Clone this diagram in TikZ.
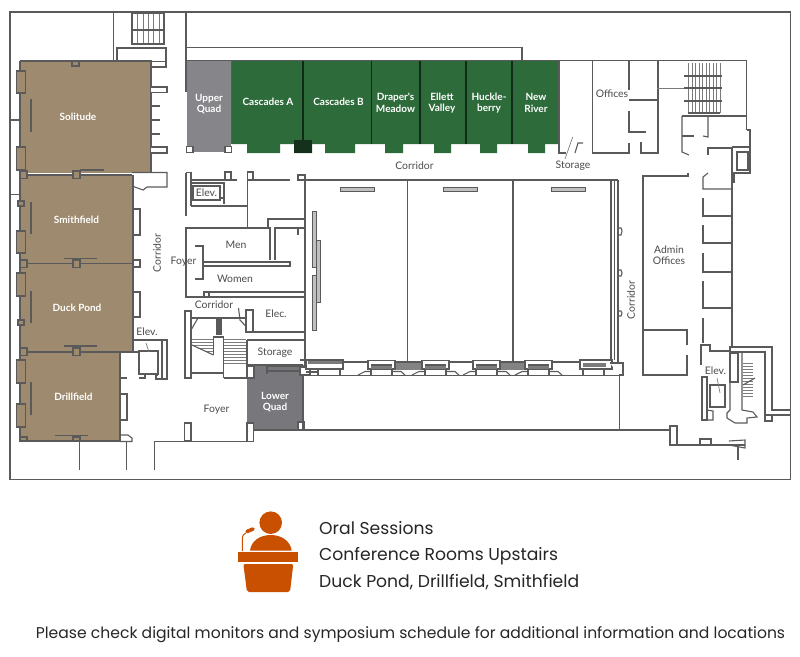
\documentclass[tikz,border=0pt]{standalone}
\usepackage{fontspec}
\setmainfont{Poppins}
\newfontfamily\planfont{Lato}
\definecolor{brownroom}{HTML}{9E8A6E}
\definecolor{greenroom}{HTML}{2E6B3B}
\definecolor{grayroom}{HTML}{85858A}
\definecolor{grayroomb}{HTML}{77777C}
\definecolor{wallc}{HTML}{5A5A5A}
\definecolor{orangeicon}{HTML}{C85000}
\definecolor{labelc}{HTML}{4A4A4A}
\tikzset{
  wall/.style={draw=wallc,line width=1.1pt,line join=miter},
  thin wall/.style={draw=wallc!80,line width=.7pt},
  heavy/.style={draw=wallc,line width=1.6pt},
  block/.style={draw=wallc,line width=1.1pt,fill=white},
  bar/.style={draw=wallc,line width=.9pt,fill=gray!50},
  plan/.style={font=\planfont\fontsize{10.4}{11.5}\selectfont,text=labelc,align=center,inner sep=0pt},
  planw/.style={font=\planfont\bfseries\fontsize{10}{11.5}\selectfont,text=white,align=center,inner sep=0pt},
  caption/.style={font=\fontsize{17.2}{20}\selectfont,text=black!85,anchor=base west,inner sep=0pt}
}
\begin{document}
\begin{tikzpicture}[x=1pt,y=-1pt]
\useasboundingbox (0,0) rectangle (800,656);
% frame
\draw[wall] (10,12) rectangle (790.5,479.5);
% coloured rooms
\fill[brownroom] (20,61) rectangle (151,173);
\fill[brownroom] (20,175) rectangle (133,263);
\fill[brownroom] (20,263) rectangle (133,352);
\fill[brownroom] (20,352) rectangle (120,441);
\fill[grayroom] (187,60.5) rectangle (231,152);
\fill[greenroom] (232,60.5) -- (559,60.5) -- (559,144) -- (545,144) -- (545,153) -- (528,153) -- (528,144)
 -- (497,144) -- (497,153) -- (480,153) -- (480,144) -- (451,144) -- (451,153) -- (434,153) -- (434,144)
 -- (403,144) -- (403,153) -- (385,153) -- (385,144) -- (355,144) -- (355,153) -- (325,153) -- (325,144)
 -- (312,144) -- (312,153) -- (294,153) -- (294,144) -- (280,144) -- (280,153) -- (247,153) -- (247,144) -- (232,144) -- cycle;
\fill[grayroomb] (254,365) -- (303,365) -- (303,430) -- (254,430) -- (254,423) -- (247,423) -- (247,378) -- (254,378) -- cycle;
% room outlines
\draw[wall] (20,61) -- (151,61) -- (151,172);
\draw[heavy] (20,175) -- (132,175);
\draw[heavy] (20,263.5) -- (133,263.5);
\draw[heavy] (20,352) -- (138,352);
\draw[wall] (20,61) -- (20,441) -- (120,441) -- (120,352);
\draw[wall] (133,175) -- (133,263);
\draw[wall] (133,263) -- (133,352);
\draw[wall] (186,12) -- (186,92);
\draw[wall] (113.5,12) -- (113.5,61);
\draw[wall] (231.5,60.5) -- (231.5,144);
\foreach \x in {303,371.5,420,466,512}{\draw[draw=black!60!greenroom,line width=1.1pt] (\x,60.5) -- (\x,144);}
\draw[wall] (186,47.5) -- (522,47.5) -- (522,60.5);
\draw[wall] (186,60.5) -- (746.7,60.5);
\draw[wall] (559,60.5) -- (559,153) -- (566,153);
\fill[black!55!greenroom] (294,140) rectangle (312,153);
% corner squares of the upper quad
\draw[block] (186.5,146.5) rectangle (193,152.5);
\draw[block] (225,146.5) rectangle (231.5,152.5);
% top stair
\foreach \x in {132,137.5,143,148,153.5,159,164}{\draw[thin wall] (\x,13) -- (\x,44);}
\draw[wall] (132,13) rectangle (164,44);
\draw[wall] (132,30) -- (164,30);
% solitude right side
\draw[wall] (117,61) -- (117,48) -- (166,48) -- (166,67) -- (151,67);
\draw[wall] (151,61.5) -- (166,61.5);
\draw[block] (151,87) -- (167,87) -- (167,92.5) -- (151,92.5);
\draw[wall] (151,106) -- (160,106) (151,120) -- (160,120) (151,134) -- (160,134);
\draw[block] (151,147) -- (167,147) -- (167,153) -- (151,153);
% left doors
\foreach \y/\h in {71/22,147/23,231/22,273/23,360/23,404/23}{\draw[wall,fill=brownroom] (16.5,\y) rectangle (25.5,\y+\h);}
\foreach \y/\e in {99/132,202/234,291/323,382/415}{\draw[wall,line width=1.3pt] (31,\y) -- (31,\e);}
\draw[wall] (11,120) -- (20,120) (11,194.5) -- (20,194.5);
\draw[wall,fill=brownroom] (72,61) rectangle (79,66);
\draw[wall,fill=brownroom] (18,201) rectangle (24,206);
\draw[wall,fill=brownroom] (18,320) rectangle (24,325);
\foreach \y in {171,260,348}{\draw[wall,fill=brownroom] (73,\y) rectangle (80,\y+7.5);\draw[wall,fill=brownroom] (20,\y) rectangle (27,\y+7.5);}
\draw[wall,fill=brownroom] (73,437) rectangle (80,441);
\draw[wall,fill=brownroom] (20,437) rectangle (27,441);
\draw[wall,line width=1.3pt] (80,170) -- (104,170) (64,258.5) -- (97,258.5) (64,346) -- (97,346) (55,435.5) -- (88,435.5);
% right side of west rooms
\draw[wall] (132,172.5) -- (167,172.5) -- (167,187) -- (147,187) -- (143,190) -- (132,186);
\draw[block] (133,209) rectangle (140,235);
\draw[block] (133,292) rectangle (140,317);
\draw[block] (133,260) rectangle (140,267);
\draw[block] (120,394) rectangle (127,420);
\draw[wall] (120,435) -- (128,435) -- (132,438) -- (132,441.5) -- (120,441.5);
\draw[wall] (79.5,441) -- (79.5,470) (126.5,442) -- (126.5,470);
\draw[wall] (154.5,470) -- (154.5,441.5) -- (247,441.5);
% west elevator
\node[plan] (elevw) at (147,332) {Elev.};
\coordinate (elevwa) at (149,352);
\draw[wall] (134,340) -- (167,340) -- (167,379) -- (156,379) -- (156,375) -- (158,375);
\draw[wall] (162,340) -- (162,379);
\draw[wall] (139,351) rectangle (158,374);
\draw[thin wall] (146,343) -- (elevwa);
\draw[wall] (120,378) -- (127,378) (139,378) -- (145,378) -- (145,374) (120,372) -- (120,378);
% upper elevator
\draw[wall] (186,172.5) -- (191,172.5) -- (191,206);
\draw[wall] (186,172.5) -- (186,216);
\draw[wall] (191,180) -- (237,180);
\draw[wall] (225,172) rectangle (231,180);
\draw[wall] (191,183) -- (224,183) -- (224,198) -- (220,198) (191,206) -- (247,206);
\draw[wall] (193,186) rectangle (220,200);
\draw[wall] (220,198) -- (224,198) -- (224,204);
\node[plan] (elevn) at (206.5,193) {Elev.};
\draw[wall] (247.5,172) -- (247.5,228);
\draw[wall] (247.5,172) rectangle (253,180);
\draw[wall] (253,180) -- (290,180);
\draw[wall] (298,175) rectangle (305,180);
\draw[wall] (305,180) -- (305,372);
% toilets, foyer
\draw[wall] (268,228) -- (268,219) -- (305,219);
\draw[wall] (186,232) -- (186,297) -- (204,297);
\draw[wall] (186,232) -- (186,228) -- (270,228) -- (270,260);
\draw[wall] (275,260) -- (275,228) -- (298,228) -- (298,235) (298,228) -- (305,228);
\draw[wall] (195,246) -- (203,246) -- (203,279) -- (195,279);
\draw[wall] (204,262) -- (290,262) -- (290,266) -- (204,266);
\draw[wall] (204,292) rectangle (209,297);
\draw[wall] (209,292) -- (305,292) (209,297) -- (305,297);
% stairs
\draw[wall] (185,311) rectangle (191,378);
\draw[wall] (191,318) -- (245,318);
\draw[wall] (191,330) -- (198,318) (238.5,308) -- (240,320) -- (246.5,327);
\fill[wallc] (216,318) rectangle (222,335);
\draw[wall] (213.5,355) -- (213.5,337) -- (223.5,337) -- (223.5,378);
\foreach \y in {339,342,345}{\draw[thin wall] (192,\y) -- (213,\y);}
\draw[thin wall] (198,348) -- (213,348) (205,351) -- (213,351);
\draw[wall] (213.5,355) -- (192,345);
\foreach \y in {339,342,345,348,351,354,357,360,363}{\draw[thin wall] (224,\y) -- (246,\y);}
\draw[wall] (191,373) -- (223.5,373) (223.5,378) -- (247,378);
\draw[block] (246,310) rectangle (253,332);
\draw[wall] (246,332) -- (305,332) (247,340) -- (305,340) (247,340) -- (247,365) -- (305,365);
\draw[block] (247,366) rectangle (254,378);
\draw[block] (184.5,423) rectangle (191,441);
% lower quad
\draw[wall] (254,430) -- (670,430);
\draw[block] (247,423) rectangle (253.5,441.5);
\draw[block] (298,422) rectangle (304,430);
\draw[wall] (303,365) -- (303,430);
\draw[wall,line width=1.5pt] (267,366.5) -- (299,366.5);
\draw[wall,line width=1.2pt] (267,371) -- (300,371);
\draw[wall] (267,366) -- (267,374);
\draw[block] (300,360) -- (305,360) -- (305,367);
\draw[block] (300,367) rectangle (310,375);
% ballroom
\draw[wall] (305,180) -- (618,180);
\draw[wall] (407.5,180) -- (407.5,362) (513,180) -- (513,362);
\foreach \x in {340,443,551}{\draw[bar] (\x,187) rectangle (\x+34,191);}
\draw[wall] (611,180) -- (611,360) (614.5,180) -- (614.5,360) (618,180) -- (618,363);
\draw[wall] (618,228) -- (621,228) -- (622,231) -- (621,235) -- (618,235);
\draw[wall] (618,270) -- (621,270) -- (622,273) -- (621,276) -- (618,276);
\draw[wall] (618,311) -- (621,311) -- (622,313) -- (621,316) -- (618,316);
\draw[bar] (312,211) rectangle (316,267);
\draw[bar] (316,240) rectangle (320,302);
\draw[bar] (312,275) rectangle (316,330);
% ballroom bottom band
\draw[wall,line width=1.4pt] (305,375.5) -- (619,375.5);
\draw[wall] (305,362) -- (611,362);
\fill[wallc!75] (396,363) rectangle (422,370);
\fill[wallc!75] (500,363) rectangle (525,370);
\foreach \x in {368,422,473,525}{
  \draw[block] (\x,369) -- (\x,360.5) -- (\x+27,360.5) -- (\x+27,369) -- cycle;
  \draw[wall] (\x+3,365) -- (\x+24,365);
  \fill[wallc!80] (\x+3,366) rectangle (\x+24,369);
  \draw[wall] (\x+3,369) -- (\x+3,375) (\x+24,369) -- (\x+24,375);
  \draw[wall] (\x-10,375) -- (\x-3,371.5) -- (\x+3,371.5) (\x+24,371.5) -- (\x+33,371.5) -- (\x+37,375);
}
\draw[block] (306,369) -- (306,360) -- (343,360) -- (343,369) -- cycle;
\fill[wallc!80] (308,361) rectangle (342,364);
\draw[wall] (318,369) -- (318,375) (340,369) -- (340,375) (306,372) -- (318,372);
\draw[block] (580,369) -- (580,360) -- (612,360) -- (612,369) -- cycle;
\fill[wallc!80] (583,363) rectangle (606,367);
\draw[block] (610,363) -- (623,363) -- (623,375) -- (619,375);
\draw[wall] (583,369) -- (583,375) (604,369) -- (604,375);
\draw[wall] (619.5,375) -- (619.5,430);
% south east
\draw[block] (670,426) rectangle (677,445);
\draw[wall] (677,445) -- (745,445);
\draw[block] (700,439) rectangle (711,445);
\draw[wall] (729,441) -- (745,440) -- (745,448) -- (729,445);
\draw[wall] (738,447) -- (738,460);
% storage and offices
\draw[wall] (575,153) -- (578,143) -- (583,143);
\draw[thin wall] (572.7,137) -- (565,159);
\draw[wall] (592.5,60.5) -- (592.5,153) -- (629,153) -- (629,143);
\draw[wall] (641,142) -- (641,153) -- (658,153) -- (658,60.5);
\draw[wall] (629,60.5) -- (629,90);
\draw[wall] (629,100) -- (657,100);
\draw[wall] (629,111) -- (629,132) -- (646,132);
\draw[thin wall] (657,88) -- (687,88);
% NE stairs
\foreach \x in {688,692,695,699,702,706,709,713,716,720}{\draw[thin wall] (\x,63) -- (\x,113);}
\foreach \y in {76,88,101}{\draw[wall] (684,\y) -- (722,\y);}
\draw[wall] (688,113) -- (720,113);
% NE rooms
\draw[wall] (746.7,60.5) -- (746.7,130);
\draw[wall] (682,116) -- (747,116);
\draw[wall] (689,155) -- (682,152) -- (682,116);
\draw[wall] (682,136) -- (694,136);
\draw[wall] (708,116) -- (708,137) -- (703,136);
\draw[wall] (708,155) -- (708,148) -- (732,148);
\draw[wall] (732,148) -- (732,347);
\draw[wall] (747,130) -- (750,130) -- (750,173) -- (734,173) -- (734,183);
\draw[wall] (732,147) -- (750,147);
\draw[wall] (737,152) rectangle (748,170);
% admin offices
\draw[wall] (688,173) -- (688,176) -- (643,176) -- (643,375) -- (687,375) -- (687,355);
\draw[wall] (643,330) -- (687,330) -- (687,345);
\draw[wall] (708,173) -- (703,177) -- (703,189) -- (732,189);
\draw[wall] (703,198) -- (703,216) -- (732,216);
\draw[wall] (703,225) -- (703,243) -- (732,243);
\draw[wall] (703,253) -- (703,272) -- (732,272);
\draw[wall] (703,281) -- (703,308) -- (732,308);
\draw[wall] (703,318) -- (703,343);
% SE elevator and stairs
\draw[wall] (701,365) -- (701,345) -- (710,345) -- (710,351) -- (730,351);
\draw[wall] (730,351) -- (730,347) -- (772,347) -- (772,410) -- (790,410);
\draw[wall] (730,352) -- (765,352) -- (765,415) -- (790,415);
\draw[wall] (765,415) -- (765,421) -- (772,421) -- (772,415);
\draw[wall] (730,353) rectangle (738,382);
\draw[wall] (730,382) -- (730,410) -- (727,413) -- (727,418) -- (735,423) -- (747,423) -- (747,418) -- (757,417) -- (753,412) -- (742,410) -- (742,353);
\foreach \y in {363,366,369,372,375,378,381,384,387,390,393,396}{\draw[thin wall] (743,\y) -- (753,\y);}
\draw[wall] (743,385) -- (755,378);
\draw[wall] (702,377) rectangle (707,420);
\draw[wall] (710,385) rectangle (725,407);
\draw[wall] (707,410) -- (713,411) -- (713,420) -- (707,420);
\node[plan] (elevse) at (715.5,371) {Elev.};
\coordinate (elevsea) at (720,393);
\draw[thin wall] (717,378) -- (elevsea);
% labels on rooms
\node[planw] (solitude) at (78,117) {Solitude};
\node[planw] (smithfield) at (76.5,220) {Smithfield};
\node[planw] (duckpond) at (77,307.5) {Duck Pond};
\node[planw] (drillfield) at (73.5,396.5) {Drillfield};
\node[planw] (upperquad) at (209,104) {Upper\\Quad};
\node[planw] (cascadesa) at (268,102) {Cascades A};
\node[planw] (cascadesb) at (338.5,102) {Cascades B};
\node[planw] (drapers) at (395.5,103) {Draper's\\Meadow};
\node[planw] (ellett) at (442,103) {Ellett\\Valley};
\node[planw] (huckle) at (489,103) {Huckle-\\berry};
\node[planw] (newriver) at (536,103) {New\\River};
\node[planw] (lowerquad) at (275,402) {Lower\\Quad};
\node[plan] (corridorn) at (414.5,166) {Corridor};
\node[plan] (storagen) at (573,166) {Storage};
\node[plan] (offices) at (612,94) {Offices};
\node[plan] (admin) at (669,255) {Admin\\Offices};
\node[plan,rotate=90] (corridorw) at (157,253) {Corridor};
\node[plan,rotate=90] (corridore) at (631,300) {Corridor};
\node[plan] (men) at (236,245) {Men};
\node[plan] (foyerupper) at (183.5,262) {Foyer};
\node[plan] (women) at (235,279) {Women};
\node[plan] (corridorc) at (214,305) {Corridor};
\node[plan] (elec) at (276,314) {Elec.};
\node[plan] (storagec) at (275,353) {Storage};
\node[plan] (foyerlower) at (216.5,409.5) {Foyer};
% speaker icon
\fill[orangeicon] (270.7,522.7) circle (11.3);
\fill[orangeicon] (250,550.7) .. controls (251,541) and (260,535) .. (270.8,535) .. controls (281.5,535) and (290.5,541) .. (291.7,550.7) -- cycle;
\fill[orangeicon] (238.3,551.7) rectangle (298.3,562.3);
\fill[orangeicon,rounded corners=2pt] (243.3,564) -- (293.3,564) -- (290,592) -- (247,592) -- cycle;
\draw[orangeicon,line width=1pt] (242.3,551) -- (242.3,539) .. controls (242.3,535.5) and (244,533.5) .. (246,533);
\draw[orangeicon,line width=3.6pt,line cap=round] (247,531.5) -- (253,529);
% captions
\node[caption] (oral) at (319,534) {Oral Sessions};
\node[caption] (confrooms) at (319,560.5) {Conference Rooms Upstairs};
\node[caption] (rooms) at (319,587) {Duck Pond, Drillfield, Smithfield};
\node[caption,font=\fontsize{15.6}{18}\selectfont,anchor=center] (note) at (410.5,635) {Please check digital monitors and symposium schedule for additional information and locations};
\end{tikzpicture}
\end{document}
